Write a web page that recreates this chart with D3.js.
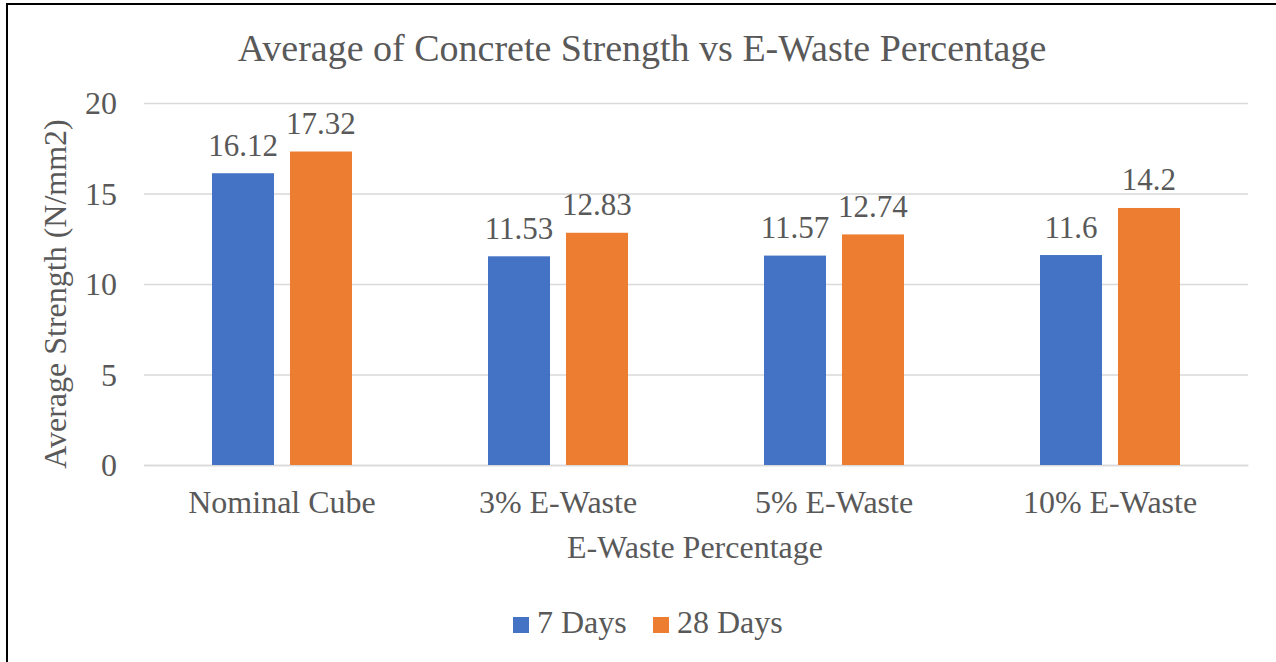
<!DOCTYPE html>
<html>
<head>
<meta charset="utf-8">
<script src="https://cdn.jsdelivr.net/npm/d3@7"></script>
<style>
  html, body { margin: 0; padding: 0; background: #fff; }
  svg { display: block; }
  svg text { font-family: "Liberation Serif", "Times New Roman", serif; }
</style>
</head>
<body>
<script>
const categories = ["Nominal Cube", "3% E-Waste", "5% E-Waste", "10% E-Waste"];
const seriesNames = ["7 Days", "28 Days"];
const days7 = [16.12, 11.53, 11.57, 11.6];
const days28 = [17.32, 12.83, 12.74, 14.2];
const yTicks = [0, 5, 10, 15, 20];
const seriesColors = ["#4472C4", "#ED7D31"];

const W = 1276, H = 662;
const font = "Liberation Serif";
const textColor = "#595959";

const svg = d3.select("body").append("svg").attr("width", W).attr("height", H);
svg.append("rect").attr("width", W).attr("height", H).attr("fill", "#fff");

// border
svg.append("rect").attr("x", 7).attr("y", 4).attr("width", W + 20).attr("height", H + 20)
  .attr("fill", "none").attr("stroke", "#000").attr("stroke-width", 2);

const plot = { left: 144, right: 1248, top: 103, bottom: 465 };

const y = d3.scaleLinear().domain([0, 20]).range([plot.bottom, plot.top]);
const x0 = d3.scaleBand().domain(categories).range([plot.left, plot.right])
  .paddingInner(0.4928).paddingOuter(0.2464);
const x1 = d3.scaleBand().domain(seriesNames).range([0, x0.bandwidth()])
  .paddingInner(0.205).paddingOuter(0);

// gridlines
const yAxis = d3.axisLeft(y).tickValues(yTicks).tickSize(-(plot.right - plot.left)).tickPadding(27);
const gy = svg.append("g").attr("transform", `translate(${plot.left},0)`).call(yAxis);
gy.select(".domain").remove();
gy.selectAll(".tick line").attr("stroke", "#D9D9D9").attr("stroke-width", 1.5);
gy.selectAll(".tick text").attr("fill", textColor).style("font-family", font)
  .attr("font-size", 32).attr("dy", "0.33em");

// x axis
const xAxis = d3.axisBottom(x0).tickSize(0).tickPadding(30);
const gx = svg.append("g").attr("transform", `translate(0,${plot.bottom})`).call(xAxis);
gx.select(".domain").attr("stroke", "#D9D9D9").attr("stroke-width", 1.5);
gx.selectAll(".tick text").attr("fill", textColor).style("font-family", font)
  .attr("font-size", 32).attr("dy", "0.55em");

// bars
const data = categories.map((c, i) => ({ cat: c, vals: [days7[i], days28[i]] }));
const groups = svg.append("g").selectAll("g").data(data).join("g")
  .attr("transform", d => `translate(${x0(d.cat)},0)`);
groups.selectAll("rect").data(d => d.vals.map((v, j) => ({ v, s: seriesNames[j], j })))
  .join("rect")
  .attr("x", d => x1(d.s))
  .attr("y", d => y(d.v))
  .attr("width", x1.bandwidth())
  .attr("height", d => y(0) - y(d.v))
  .attr("fill", d => seriesColors[d.j]);
groups.selectAll("text").data(d => d.vals.map((v, j) => ({ v, s: seriesNames[j], j })))
  .join("text")
  .attr("x", d => x1(d.s) + x1.bandwidth() / 2)
  .attr("y", d => y(d.v) - 17.5)
  .attr("text-anchor", "middle")
  .attr("fill", textColor).style("font-family", font).attr("font-size", 31)
  .text(d => d.v);

// title
svg.append("text").attr("x", 642).attr("y", 61).attr("text-anchor", "middle")
  .attr("fill", textColor).style("font-family", font).attr("font-size", 38)
  .text("Average of Concrete Strength vs E-Waste Percentage");

// axis titles
svg.append("text").attr("x", 695).attr("y", 558).attr("text-anchor", "middle")
  .attr("fill", textColor).style("font-family", font).attr("font-size", 32)
  .text("E-Waste Percentage");
svg.append("text").attr("transform", "translate(66,294) rotate(-90)").attr("text-anchor", "middle")
  .attr("fill", textColor).style("font-family", font).attr("font-size", 32)
  .text("Average Strength (N/mm2)");

// legend
const legendItems = [{ name: seriesNames[0], x: 513, c: seriesColors[0] }, { name: seriesNames[1], x: 653, c: seriesColors[1] }];
const lg = svg.append("g");
legendItems.forEach(it => {
  lg.append("rect").attr("x", it.x).attr("y", 617).attr("width", 16).attr("height", 16).attr("fill", it.c);
  lg.append("text").attr("x", it.x + 24).attr("y", 633).attr("fill", textColor)
    .style("font-family", font).attr("font-size", 32).text(it.name);
});
</script>
</body>
</html>
